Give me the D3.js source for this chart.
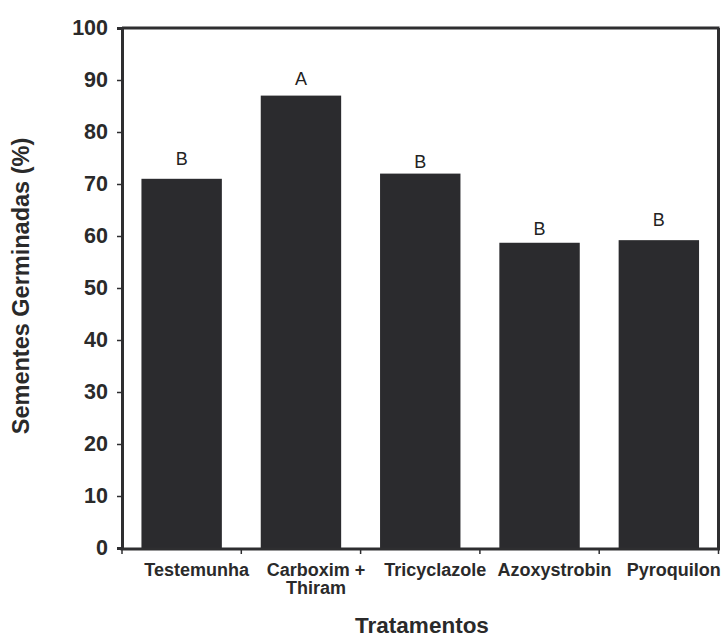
<!DOCTYPE html>
<html>
<head>
<meta charset="utf-8">
<script src="https://cdn.jsdelivr.net/npm/d3@7"></script>
<style>
  body { margin: 0; background: #fff; }
  text { font-family: "Liberation Sans", Arial, sans-serif; }
</style>
</head>
<body>
<svg id="chart"></svg>
<script>
// chart values
const categories = ['Testemunha', 'Carboxim + Thiram', 'Tricyclazole', 'Azoxystrobin', 'Pyroquilon'];
const categoryLines = [['Testemunha'], ['Carboxim +', 'Thiram'], ['Tricyclazole'], ['Azoxystrobin'], ['Pyroquilon']];
const germinated = [71, 87, 72, 58.7, 59.2];
const groupLetters = ['B', 'A', 'B', 'B', 'B'];
const letterLevels = [73.7, 89.0, 73.1, 60.2, 61.9]; // where each letter sits, in % units
const yTicks = [0, 10, 20, 30, 40, 50, 60, 70, 80, 90, 100];

const W = 725, H = 636;
const margin = {top: 28, right: 6.5, bottom: 88, left: 122};
const axisColor = '#2e2e30';

const svg = d3.select('#chart')
    .attr('width', W)
    .attr('height', H);

// scales
const x = d3.scaleBand()
    .domain(categories)
    .range([margin.left, W - margin.right])
    .paddingInner(0.326)
    .paddingOuter(0.163);

const y = d3.scaleLinear()
    .domain([0, 100])
    .range([H - margin.bottom, margin.top]);

// bars
svg.selectAll('.bar')
    .data(categories)
    .enter().append('rect')
    .attr('class', 'bar')
    .attr('x', d => x(d))
    .attr('y', (d, i) => y(germinated[i]))
    .attr('width', x.bandwidth())
    .attr('height', (d, i) => y(0) - y(germinated[i]))
    .attr('fill', '#2b2b2e');

// letters above bars
svg.selectAll('.letter')
    .data(categories)
    .enter().append('text')
    .attr('class', 'letter')
    .attr('x', d => x(d) + x.bandwidth() / 2)
    .attr('y', (d, i) => y(letterLevels[i]))
    .attr('text-anchor', 'middle')
    .attr('font-size', 18)
    .attr('fill', '#222')
    .text((d, i) => groupLetters[i]);

// frame: top and right borders
const [x0, x1] = x.range();
svg.append('line')
    .attr('x1', x0).attr('x2', x1 + 1)
    .attr('y1', y(100)).attr('y2', y(100))
    .attr('stroke', axisColor).attr('stroke-width', 3);
svg.append('line')
    .attr('x1', x1).attr('x2', x1)
    .attr('y1', y(100)).attr('y2', y(0) + 1)
    .attr('stroke', axisColor).attr('stroke-width', 3);

// y axis
const yAxis = svg.append('g')
    .attr('transform', `translate(${x0},0)`)
    .call(d3.axisLeft(y).tickValues(yTicks).tickSize(5).tickPadding(9));
yAxis.select('.domain')
    .attr('stroke', axisColor).attr('stroke-width', 3);
yAxis.selectAll('.tick line').attr('stroke', axisColor).attr('stroke-width', 1.5);
yAxis.selectAll('.tick text')
    .attr('font-family', '"Liberation Sans", Arial, sans-serif')
    .attr('font-size', 21.5)
    .attr('font-weight', 'bold')
    .attr('fill', '#2a2a2a');

// x axis: ticks at category boundaries
const bounds = categories.map(d => x(d) - x.step() * x.paddingInner() / 2)
    .concat([x1]);
bounds[0] = x0;
svg.append('line')
    .attr('x1', x0 - 1.5).attr('x2', x1 + 1.5)
    .attr('y1', y(0) + 1).attr('y2', y(0) + 1)
    .attr('stroke', axisColor).attr('stroke-width', 3);
svg.selectAll('.xtick')
    .data(bounds)
    .enter().append('line')
    .attr('x1', d => d).attr('x2', d => d)
    .attr('y1', y(0) + 2).attr('y2', y(0) + 6)
    .attr('stroke', axisColor).attr('stroke-width', 1.5);

// category labels
const catLabels = svg.selectAll('.cat')
    .data(categories)
    .enter().append('text')
    .attr('class', 'cat')
    .attr('text-anchor', 'middle')
    .attr('font-size', 18)
    .attr('font-weight', 'bold')
    .attr('fill', '#2a2a2a');
catLabels.each(function(d, i) {
    const cx = x(d) + x.bandwidth() / 2 + 15;
    d3.select(this).selectAll('tspan')
        .data(categoryLines[i])
        .enter().append('tspan')
        .attr('x', cx)
        .attr('y', (t, j) => y(0) + 27.5 + j * 18.5)
        .text(t => t);
});

// axis titles
svg.append('text')
    .attr('transform', `translate(29,286) rotate(-90)`)
    .attr('text-anchor', 'middle')
    .attr('font-size', 23.5)
    .attr('font-weight', 'bold')
    .attr('fill', '#2a2a2a')
    .text('Sementes Germinadas (%)');

svg.append('text')
    .attr('x', 422)
    .attr('y', 632.5)
    .attr('text-anchor', 'middle')
    .attr('font-size', 22.5)
    .attr('font-weight', 'bold')
    .attr('fill', '#2a2a2a')
    .text('Tratamentos');
</script>
</body>
</html>
